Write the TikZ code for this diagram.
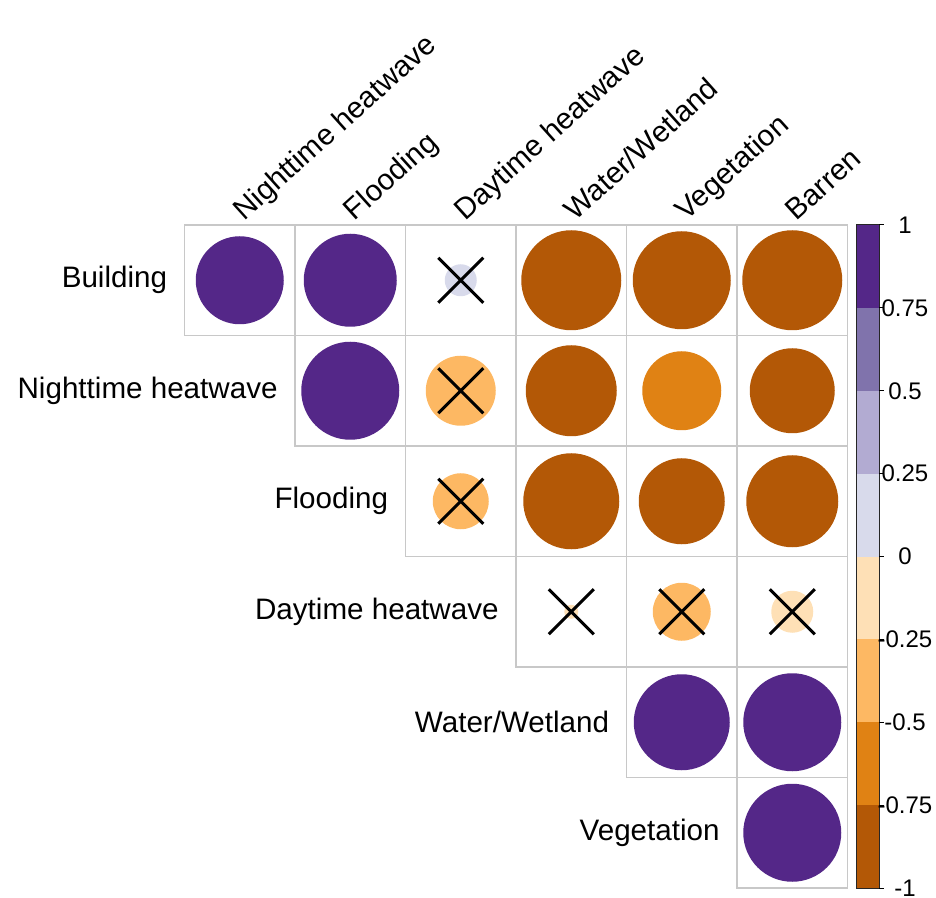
\documentclass[tikz,border=0pt]{standalone}
\usepackage{fontspec}
\setmainfont{Liberation Sans}
\usetikzlibrary{shapes.misc}

\definecolor{pu1}{HTML}{542788}
\definecolor{pu2}{HTML}{8073AC}
\definecolor{pu3}{HTML}{B2ABD2}
\definecolor{pu4}{HTML}{D8DAEB}
\definecolor{or4}{HTML}{FEE0B6}
\definecolor{or3}{HTML}{FDB863}
\definecolor{or2}{HTML}{E08214}
\definecolor{or1}{HTML}{B35806}
\definecolor{gridgray}{HTML}{C8C8C8}

\tikzset{
  corrdot/.style={circle, inner sep=0pt, minimum size=#1},
  nosig/.style={cross out, draw=black, line width=1.5pt, inner sep=0pt, minimum size=21pt},
  rowlab/.style={anchor=east, inner sep=0pt, font=\fontsize{14.8}{17}\selectfont},
  collab/.style={anchor=base west, inner sep=0pt, rotate=42, font=\fontsize{14.8}{17}\selectfont},
  barlab/.style={font=\fontsize{12}{14}\selectfont}
}

\begin{document}
\begin{tikzpicture}[x=55.25pt, y=-55.25pt]
  \useasboundingbox (-1.6697, -2.0362) rectangle (6.8009, 6.0905);

  % cells
  \foreach \i in {1,...,6}
    \foreach \j in {\i,...,6}
      \draw[gridgray, line width=0.75pt] (\j-1, \i-1) rectangle (\j, \i);

  % column labels
  \node[collab] (cNH) at (0.54, -0.03) {Nighttime heatwave};
  \node[collab] (cFL) at (1.54, -0.03) {Flooding};
  \node[collab] (cDH) at (2.54, -0.03) {Daytime heatwave};
  \node[collab] (cWW) at (3.54, -0.03) {Water/Wetland};
  \node[collab] (cVG) at (4.54, -0.03) {Vegetation};
  \node[collab] (cBR) at (5.54, -0.03) {Barren};

  % row labels
  \node[rowlab] (rBU) at (-0.154, 0.5) {Building};
  \node[rowlab] (rNH) at (0.846, 1.5) {Nighttime heatwave};
  \node[rowlab] (rFL) at (1.846, 2.5) {Flooding};
  \node[rowlab] (rDH) at (2.846, 3.5) {Daytime heatwave};
  \node[rowlab] (rWW) at (3.846, 4.5) {Water/Wetland};
  \node[rowlab] (rVG) at (4.846, 5.5) {Vegetation};

  % Building
  \node[corrdot=44pt, fill=pu1] (d11) at (0.5, 0.5) {};
  \node[corrdot=46.5pt, fill=pu1] (d12) at (1.5, 0.5) {};
  \node[corrdot=16pt, fill=pu4] (d13) at (2.5, 0.5) {};
  \node[nosig] (x13) at (2.5, 0.5) {};
  \node[corrdot=50pt, fill=or1] (d14) at (3.5, 0.5) {};
  \node[corrdot=49pt, fill=or1] (d15) at (4.5, 0.5) {};
  \node[corrdot=50pt, fill=or1] (d16) at (5.5, 0.5) {};

  % Nighttime heatwave
  \node[corrdot=49pt, fill=pu1] (d22) at (1.5, 1.5) {};
  \node[corrdot=35pt, fill=or3] (d23) at (2.5, 1.5) {};
  \node[nosig] (x23) at (2.5, 1.5) {};
  \node[corrdot=45.5pt, fill=or1] (d24) at (3.5, 1.5) {};
  \node[corrdot=39.5pt, fill=or2] (d25) at (4.5, 1.5) {};
  \node[corrdot=42.5pt, fill=or1] (d26) at (5.5, 1.5) {};

  % Flooding
  \node[corrdot=28pt, fill=or3] (d33) at (2.5, 2.5) {};
  \node[nosig] (x33) at (2.5, 2.5) {};
  \node[corrdot=48pt, fill=or1] (d34) at (3.5, 2.5) {};
  \node[corrdot=43pt, fill=or1] (d35) at (4.5, 2.5) {};
  \node[corrdot=46pt, fill=or1] (d36) at (5.5, 2.5) {};

  % Daytime heatwave
  \node[corrdot=7pt, fill=or4] (d44) at (3.5, 3.5) {};
  \node[nosig] (x44) at (3.5, 3.5) {};
  \node[corrdot=29pt, fill=or3] (d45) at (4.5, 3.5) {};
  \node[nosig] (x45) at (4.5, 3.5) {};
  \node[corrdot=21pt, fill=or4] (d46) at (5.5, 3.5) {};
  \node[nosig] (x46) at (5.5, 3.5) {};

  % Water/Wetland, Vegetation
  \node[corrdot=48pt, fill=pu1] (d55) at (4.5, 4.5) {};
  \node[corrdot=49pt, fill=pu1] (d56) at (5.5, 4.5) {};
  \node[corrdot=49pt, fill=pu1] (d66) at (5.5, 5.5) {};

  % colour bar
  \fill[pu1] (6.077, 0) rectangle (6.285, 0.75);
  \fill[pu2] (6.077, 0.75) rectangle (6.285, 1.5);
  \fill[pu3] (6.077, 1.5) rectangle (6.285, 2.25);
  \fill[pu4] (6.077, 2.25) rectangle (6.285, 3);
  \fill[or4] (6.077, 3) rectangle (6.285, 3.75);
  \fill[or3] (6.077, 3.75) rectangle (6.285, 4.5);
  \fill[or2] (6.077, 4.5) rectangle (6.285, 5.25);
  \fill[or1] (6.077, 5.25) rectangle (6.285, 6);
  \draw[black!85, line width=0.5pt] (6.077, 0) rectangle (6.285, 6);
  \foreach \t in {0, 0.75, ..., 6}
    \draw[line width=0.5pt] (6.285, \t) -- (6.33, \t);

  \node[barlab] (b1) at (6.52, 0) {1};
  \node[barlab] (b2) at (6.52, 0.75) {0.75};
  \node[barlab] (b3) at (6.52, 1.5) {0.5};
  \node[barlab] (b4) at (6.52, 2.25) {0.25};
  \node[barlab] (b5) at (6.52, 3) {0};
  \node[barlab] (b6) at (6.52, 3.75) {-0.25};
  \node[barlab] (b7) at (6.52, 4.5) {-0.5};
  \node[barlab] (b8) at (6.52, 5.25) {-0.75};
  \node[barlab] (b9) at (6.52, 6) {-1};

\end{tikzpicture}
\end{document}
